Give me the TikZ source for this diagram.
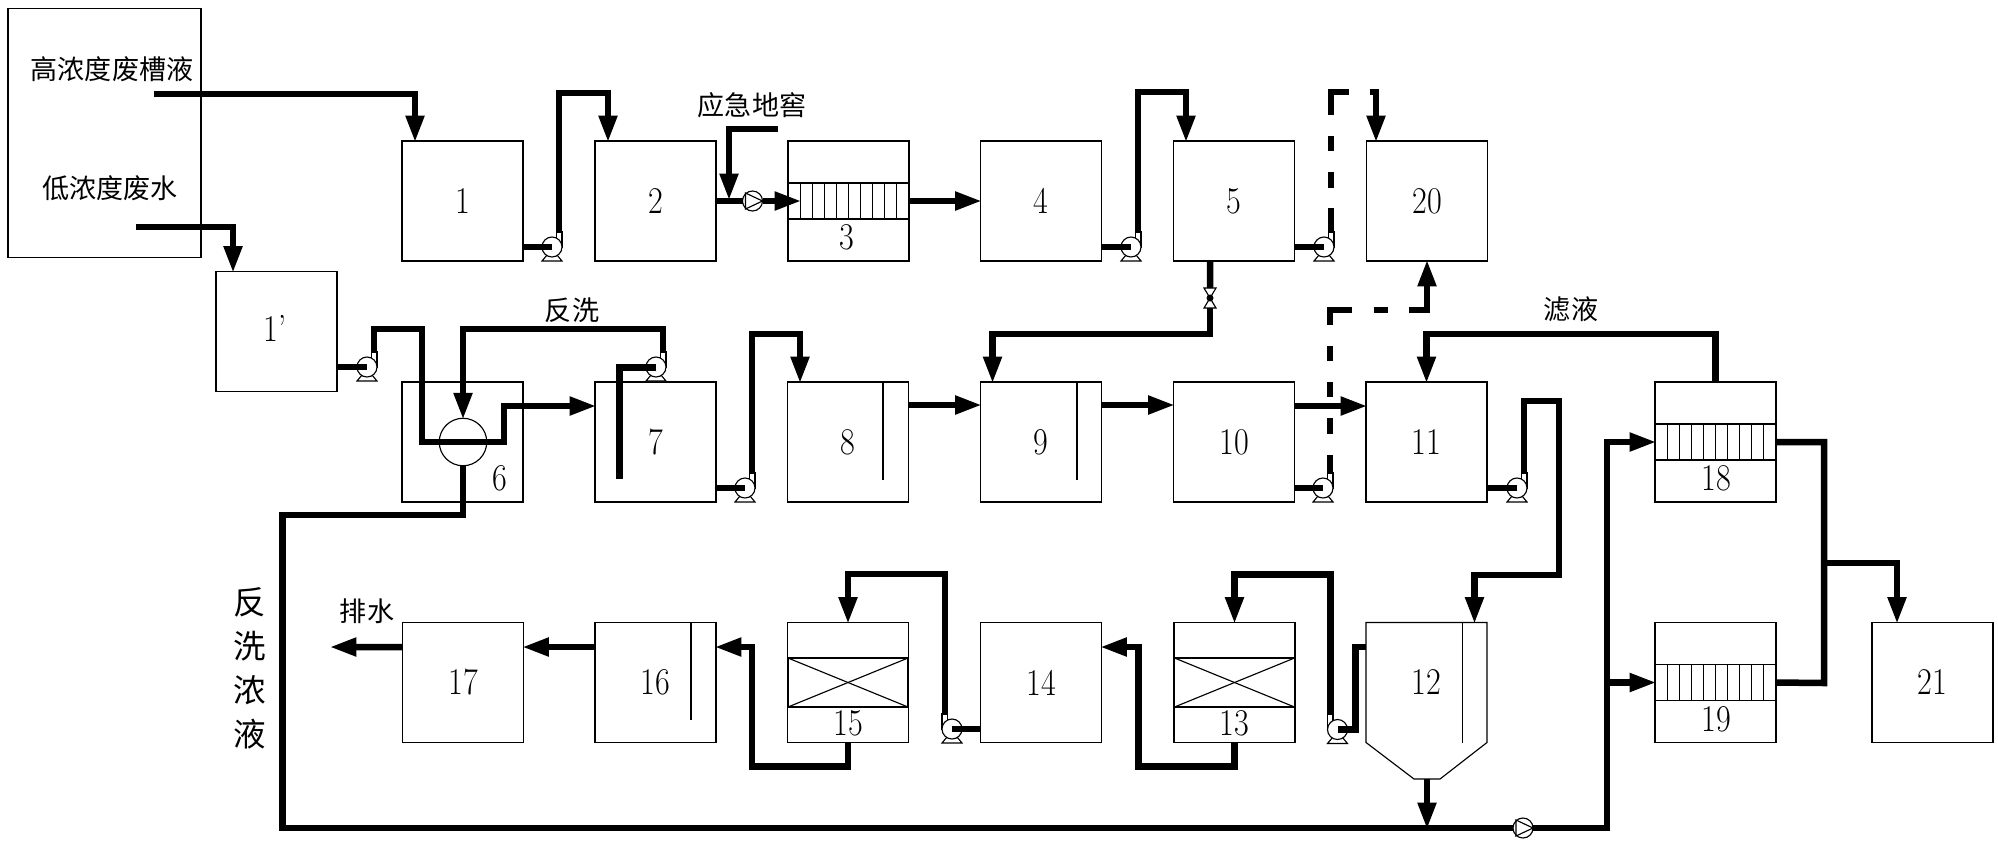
\documentclass[tikz,border=0pt]{standalone}
\usepackage{fontspec}
\newfontfamily\cjk{Noto Sans CJK SC}
\newfontfamily\numfont[FakeStretch=0.85]{Latin Modern Roman}
\usetikzlibrary{arrows.meta}
\tikzset{
  tank/.style={draw,line width=0.65pt,minimum width=2.42cm,minimum height=2.4cm,inner sep=0pt,outer sep=0pt,
    font=\numfont\fontsize{21.5}{22}\selectfont},
  num/.style={inner sep=0pt,font=\numfont\fontsize{21.5}{22}\selectfont},
  note/.style={inner sep=0pt,font=\cjk\fontsize{15.4}{18}\selectfont},
  part/.style={line width=0.65pt},
  pipe/.style={line width=0.13cm},
  arr/.style={pipe,-{Triangle[length=0.54cm,width=0.35cm]},shorten >=-0.03cm},
  pumpv/.pic={
    \draw[part,fill=white] (-5,8) -- (-10,14) -- (10,14) -- (5,8);
    \draw[part,fill=white] (4.5,-15) rectangle (10,0);
    \draw[part,fill=white] (0,0) circle (10);
    \coordinate (-in) at (0,0);
    \coordinate (-out) at (7,-15);
  },
  pumpl/.pic={
    \draw[part,fill=white] (0,0) circle (10);
    \draw[part] (-7,-8) -- (-7,8) -- (10,0) -- cycle;
    \coordinate (-in) at (-10,0);
    \coordinate (-out) at (10,0);
  },
  valve/.pic={
    \draw[part,fill=white] (-6,-10) -- (6,-10) -- (-6,10) -- (6,10) -- cycle;
    \fill (0,0) circle (3.5);
    \coordinate (-top) at (0,-10);
    \coordinate (-bot) at (0,10);
  },
  bars/.pic={
    \draw[part] (-60,-18) rectangle (60,18);
    \foreach \i in {-48,-36,...,48} \draw[part] (\i,-18) -- (\i,18);
  },
  bed/.pic={
    \draw[part] (-60,-24.5) rectangle (60,24.5);
    \draw[part] (-60,-24.5) -- (60,24.5);
    \draw[part] (-60,24.5) -- (60,-24.5);
  }
}

\begin{document}
\begin{tikzpicture}[x=0.02cm,y=-0.02cm]
  \useasboundingbox (0,0) rectangle (1998,846);

  \node[draw,line width=0.65pt,minimum width=3.86cm,minimum height=4.98cm] (source) at (104.5,133) {};
  \node[note] (high) at (112,69) {高浓度废槽液};
  \node[note] (low) at (110,188) {低浓度废水};
  \coordinate (high_out) at (154,94);
  \coordinate (low_out) at (136,227);

  \node[tank] (tank1) at (462.5,201) {1};
  \node[tank] (tank2) at (655.5,201) {2};
  \node[tank] (tank3) at (848.5,201) {};
  \node[tank] (tank4) at (1041,201) {4};
  \node[tank] (tank5) at (1234,201) {5};
  \node[tank] (tank20) at (1427,201) {20};
  \node[tank] (tank1p) at (276.5,331.5) {};
  \node[num] (lab1p) at (275,328) {1’};
  \node[tank] (tank6) at (462.5,442) {};
  \node[tank] (tank7) at (655.5,442) {7};
  \node[tank] (tank8) at (848,442) {8};
  \node[tank] (tank9) at (1041,442) {9};
  \node[tank] (tank10) at (1234,442) {10};
  \node[tank] (tank11) at (1426.5,442) {11};
  \node[tank] (tank18) at (1715.5,442) {};
  \node[tank] (tank17) at (463,682.5) {17};
  \node[tank] (tank16) at (655.5,682.5) {16};
  \node[tank] (tank15) at (848,682.5) {};
  \node[tank] (tank14) at (1041,682.5) {14};
  \node[tank] (tank13) at (1234.5,682.5) {};
  \node[tank,draw=none] (tank12) at (1426.5,682.5) {12};
  \node[tank] (tank19) at (1715.5,682.5) {};
  \node[tank] (tank21) at (1932.5,682.5) {21};

  \node[num] (lab3) at (847,237) {3};
  \node[num] (lab6) at (500,478) {6};
  \node[num] (lab18) at (1716,478) {18};
  \node[num] (lab19) at (1716,719) {19};
  \node[num] (lab13) at (1234,723) {13};
  \node[num] (lab15) at (848.5,723) {15};

  \pic at (tank3) {bars};
  \pic at (tank18) {bars};
  \pic at (tank19) {bars};
  \pic at (tank13) {bed};
  \pic at (tank15) {bed};
  \draw[part] (883,382) -- (883,480);
  \draw[part] (1077,382) -- (1077,480);
  \draw[part] (691,622) -- (691,720);
  \coordinate (sump) at (1427,779);
  \draw[part] (tank12.south west) -- (tank12.north west) -- (tank12.north east) -- (tank12.south east)
    -- (1440,779) -- (1414,779) -- cycle;
  \draw[part] (1462.5,622) -- (1462.5,743);

  \node[note] (pit) at (752,105) {应急地窖};
  \node[note] (backwash) at (572,310) {反洗};
  \node[note] (filtrate) at (1571,309) {滤液};
  \node[note] (drainage) at (367,611) {排水};
  \node[note,font=\cjk\fontsize{18.5}{25}\selectfont,align=center] (concentrate) at (250,668) {反\\洗\\浓\\液};

  \pic (pump1) at (552,247) {pumpv};
  \pic (pump2) at (752.5,201) {pumpl};
  \pic (pump4) at (1131,247) {pumpv};
  \pic (pump5) at (1324,247) {pumpv};
  \pic (pump1p) at (367,367) {pumpv};
  \pic (pump_back) at (656,367) {pumpv};
  \pic (pump7) at (745,488) {pumpv};
  \pic (pump10) at (1323,488) {pumpv};
  \pic (pump11) at (1517,488) {pumpv};
  \pic[xscale=-1] (pump13) at (1337.5,729.5) {pumpv};
  \pic[xscale=-1] (pump14) at (952,729) {pumpv};
  \pic (pump_return) at (1523,828) {pumpl};
  \pic (valve5) at (1210,298) {valve};

  \node[draw,circle,line width=0.65pt,minimum size=0.95cm,inner sep=0pt,outer sep=0pt,fill=white] (exch) at (463,442) {};

  \coordinate (pit_in) at (778,129);
  \coordinate (pit_tee) at (729,199);
  \coordinate (bend_a) at (422,442);
  \coordinate (bend_b) at (504,442);
  \coordinate (dip) at (619,478.6);
  \coordinate (drain_a) at (282.5,515);
  \coordinate (drain_b) at (282.5,828);
  \coordinate (riser) at (1607,442);
  \coordinate (merge) at (1824,683);
  \coordinate (merge_tee) at (1824,563);
  \coordinate (outlet) at (331,647);

  \draw[arr] (high_out) -| ([xshift=-.95cm]tank1.north);
  \draw[arr] (low_out) -| ([xshift=-.87cm]tank1p.north);
  \draw[pipe] (tank1.east |- pump1-in) -- (pump1-in);
  \draw[arr] (pump1-out) -- ++(0,-139) -| ([xshift=-.95cm]tank2.north);
  \draw[pipe] (tank2.east) -- (pump2-in);
  \draw[arr] (pit_in) -| (pit_tee);
  \draw[arr] (pump2-out) -- ([xshift=.24cm]tank3.west);
  \draw[arr] (tank3.east) -- (tank4.west);
  \draw[pipe] (tank4.east |- pump4-in) -- (pump4-in);
  \draw[arr] (pump4-out) -- ++(0,-140) -| ([xshift=-.96cm]tank5.north);
  \draw[pipe] (tank5.east |- pump5-in) -- (pump5-in);
  \draw[arr,dash pattern=on .48cm off .4cm on .32cm off .42cm on .3cm off .42cm on .82cm off .42cm on 2cm]
    (pump5-out) -- ++(0,-140) -| ([xshift=-1.02cm]tank20.north);
  \draw[pipe] ([xshift=-.48cm]tank5.south) -- (valve5-top);
  \draw[arr] (valve5-bot) -- ++(0,26) -| ([xshift=-.97cm]tank9.north);

  \draw[pipe] (tank1p.east |- pump1p-in) -- (pump1p-in);
  \draw[arr] (pump1p-out) -- ++(0,-23) -| (bend_a) -- (bend_b) |- ([yshift=.72cm]tank7.west);
  \draw[arr] (pump_back-out) -- ++(0,-23) -| (exch.north);
  \draw[pipe,line width=0.14cm] (dip) |- (pump_back-in);
  \draw[pipe] (exch.south) |- (drain_a) -- (drain_b) -- (pump_return-in);
  \draw[pipe] (tank7.east |- pump7-in) -- (pump7-in);
  \draw[arr] (pump7-out) -- ++(0,-139) -| ([xshift=-.96cm]tank8.north);
  \draw[arr] ([yshift=.74cm]tank8.east) -- ([yshift=.74cm]tank9.west);
  \draw[arr] ([yshift=.74cm]tank9.east) -- ([yshift=.74cm]tank10.west);
  \draw[arr] ([yshift=.72cm]tank10.east) -- ([yshift=.72cm]tank11.west);
  \draw[pipe] (tank10.east |- pump10-in) -- (pump10-in);
  \draw[arr,dash pattern=on .36cm off .42cm on .32cm off .42cm on .3cm off .42cm on .3cm off .42cm on .74cm off .44cm on .28cm off .42cm on 2cm]
    (pump10-out) -- ++(0,-163) -| (tank20.south);
  \draw[pipe] (tank11.east |- pump11-in) -- (pump11-in);
  \draw[arr] (pump11-out) -- ++(0,-72) -- ++(35,0) -- ++(0,174) -| ([xshift=.96cm]tank12.north);

  \draw[arr] (pump_return-out) -| (riser) -- (tank18.west);
  \draw[arr] (tank19.west -| riser) -- (tank19.west);
  \draw[arr] (tank18.north) -- ++(0,-48) -| (tank11.north);
  \draw[pipe] (tank18.east) -| (merge) -- (tank19.east);
  \draw[arr] (merge_tee) -| ([xshift=-.71cm]tank21.north);
  \draw[arr] (sump) -- (sump |- pump_return-in);

  \draw[pipe] (pump13-in) -- ++(18,0) |- ([yshift=.71cm]tank12.west);
  \draw[arr] (pump13-out) -- ++(0,-140) -| (tank13.north);
  \draw[arr] (tank13.south) -- ++(0,24) -- ++(-96,0) |- ([yshift=.71cm]tank14.east);
  \draw[pipe] (tank14.west |- pump14-in) -- (pump14-in);
  \draw[arr] (pump14-out) -- ++(0,-140) -| (tank15.north);
  \draw[arr] (tank15.south) -- ++(0,24) -- ++(-96,0) |- ([yshift=.71cm]tank16.east);
  \draw[arr] ([yshift=.71cm]tank16.west) -- ([yshift=.71cm]tank17.east);
  \draw[arr] ([yshift=.71cm]tank17.west) -- (outlet);
\end{tikzpicture}
\end{document}
